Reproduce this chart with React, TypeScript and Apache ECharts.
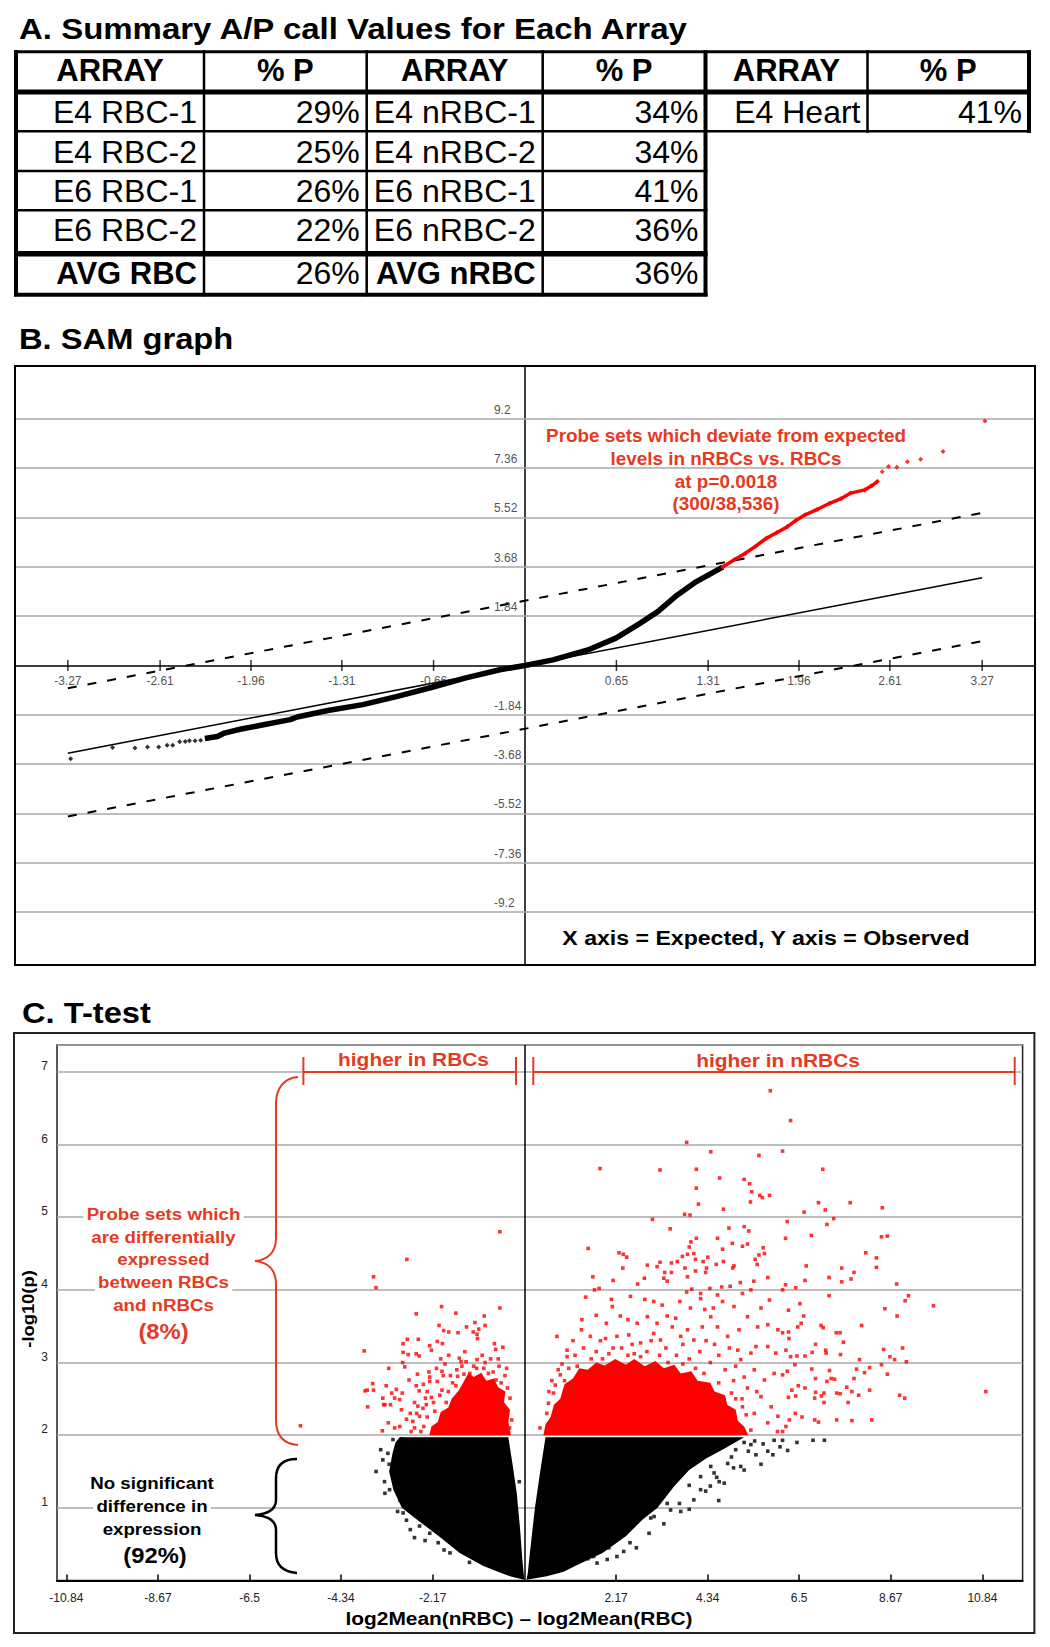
import React, { useEffect, useRef } from 'react';
import * as echarts from 'echarts';

const FONT = '"Liberation Sans", Arial, Helvetica, sans-serif';
const RED_TXT = '#e63a1f';
const RED_PT = '#ff0000';

// ---------------- A. table ----------------
const TITLE_A = 'A. Summary A/P call Values for Each Array';
const TABLE_HEADERS = ['ARRAY', '% P', 'ARRAY', '% P', 'ARRAY', '% P'];
const RBC_ARRAYS = ['E4 RBC-1', 'E4 RBC-2', 'E6 RBC-1', 'E6 RBC-2'];
const RBC_PCT = ['29%', '25%', '26%', '22%'];
const NRBC_ARRAYS = ['E4 nRBC-1', 'E4 nRBC-2', 'E6 nRBC-1', 'E6 nRBC-2'];
const NRBC_PCT = ['34%', '34%', '41%', '36%'];
const AVG_ROW = ['AVG RBC', '26%', 'AVG nRBC', '36%'];
const HEART_ROW = ['E4 Heart', '41%'];

// ---------------- B. SAM graph ----------------
const TITLE_B = 'B. SAM graph';
const SAM_X_TICKS = [-3.27, -2.61, -1.96, -1.31, -0.654, 0.654, 1.31, 1.96, 2.61, 3.27];
const SAM_X_LABELS = ['-3.27', '-2.61', '-1.96', '-1.31', '-0.66', '0.65', '1.31', '1.96', '2.61', '3.27'];
const SAM_Y_TICKS = [-9.2, -7.36, -5.52, -3.68, -1.84, 1.84, 3.68, 5.52, 7.36, 9.2];
const SAM_Y_LABELS = ['-9.2', '-7.36', '-5.52', '-3.68', '-1.84', '1.84', '3.68', '5.52', '7.36', '9.2'];
const SAM_DIAGONAL = [[-3.27, -3.27], [3.27, 3.27]];
const SAM_UPPER = [[-3.27, -0.85], [3.27, 5.69]];
const SAM_LOWER = [[-3.27, -5.63], [3.27, 0.91]];
const SAM_BLACK_CURVE = [
  [-2.29, -2.72], [-2.2, -2.65], [-2.15, -2.52], [-2.03, -2.37], [-1.88, -2.22], [-1.68, -2.02],
  [-1.63, -1.92], [-1.41, -1.68], [-1.16, -1.46], [-0.92, -1.16], [-0.67, -0.82], [-0.43, -0.47],
  [-0.18, -0.16], [0, 0], [0.2, 0.21], [0.45, 0.58], [0.65, 1.02], [0.825, 1.58], [0.95, 2.01],
  [1.075, 2.57], [1.226, 3.13], [1.414, 3.67],
];
const SAM_BLACK_SPARSE = [
  [-3.25, -3.48], [-2.95, -3.06], [-2.79, -3.08], [-2.7, -3.04], [-2.62, -3.04], [-2.56, -2.97],
  [-2.52, -2.97], [-2.47, -2.84], [-2.43, -2.83], [-2.4, -2.81], [-2.36, -2.81], [-2.32, -2.79],
];
const SAM_RED_CURVE = [
  [1.414, 3.67], [1.5, 3.95], [1.577, 4.19], [1.65, 4.45], [1.728, 4.75], [1.8, 4.95], [1.878, 5.18],
  [1.94, 5.42], [2.004, 5.62], [2.09, 5.82], [2.179, 6.05], [2.26, 6.22], [2.329, 6.43], [2.43, 6.55],
  [2.48, 6.7], [2.52, 6.86],
];
const SAM_RED_SPARSE = [
  [2.555, 7.23], [2.6, 7.42], [2.66, 7.39], [2.735, 7.6], [2.83, 7.69], [2.99, 7.98], [3.29, 9.12],
];
const SAM_NOTE = ['Probe sets which deviate from expected', 'levels in nRBCs vs. RBCs', 'at p=0.0018', '(300/38,536)'];
const SAM_AXES_NOTE = 'X axis = Expected, Y axis = Observed';

// ---------------- C. T-test ----------------
const TITLE_C = 'C. T-test';
const T_X_TICKS = [-10.84, -8.67, -6.5, -4.34, -2.17, 2.17, 4.34, 6.5, 8.67, 10.84];
const T_X_NAME = 'log2Mean(nRBC) \u2013 log2Mean(RBC)';
const T_Y_NAME = '-log10(p)';
const BLACK_BLOBS = [
  [[-2.95, 1.97], [-0.38, 1.97], [-0.28, 1.6], [-0.18, 1.2], [-0.1, 0.7], [-0.05, 0.3], [-0.02, 0.12],
   [0, 0.01], [-0.3, 0.05], [-0.58, 0.11], [-0.97, 0.2], [-1.53, 0.38], [-2.0, 0.6], [-2.5, 0.82],
   [-2.9, 1.0], [-3.1, 1.25], [-3.2, 1.5], [-3.12, 1.75], [-3.05, 1.9]],
  [[0.5, 1.97], [5.2, 1.97], [4.75, 1.82], [4.3, 1.68], [3.9, 1.52], [3.55, 1.3], [3.15, 1.0],
   [2.8, 0.84], [2.4, 0.61], [1.85, 0.38], [1.2, 0.2], [0.93, 0.12], [0.53, 0.06], [0.05, 0.01],
   [0.08, 0.1], [0.13, 0.38], [0.25, 1.0], [0.38, 1.52]],
];
const BLACK_SPARSE = [
  [6.83, 1.93], [6.23, 1.79], [5.88, 1.73], [5.76, 1.78], [5.48, 1.73], [5.2, 1.52], [4.73, 1.34],
  [4.61, 1.36], [4.29, 1.23], [4.17, 1.25], [3.7, 0.95], [3.46, 0.97], [3.38, 1.06], [2.99, 0.86],
  [2.65, 0.45], [2.35, 0.4], [2.19, 0.33], [1.96, 0.29], [1.72, 0.24], [2.43, 0.7], [4.81, 1.61],
  [4.49, 1.48], [5.12, 1.57], [5.36, 1.87], [5.91, 1.93], [4.01, 1.11], [3.9, 1.31], [4.41, 1.57],
  [4.17, 1.43], [3.22, 1.16], [3.67, 1.06], [3.07, 0.88], [2.83, 0.93], [2.27, 0.66], [1.64, 0.33],
  [6.11, 1.93], [7.1, 1.93], [5.0, 1.8], [5.2, 1.9], [4.9, 1.7], [-3.51, 1.5], [-3.35, 1.66],
  [-3.31, 1.36], [-3.19, 1.25], [-3.11, 1.94], [-2.87, 0.93], [-2.6, 0.59], [-2.48, 0.75],
  [-2.24, 0.65], [-2.95, 1.11], [-3.03, 1.56], [-3.23, 1.75], [-2.79, 0.83], [-2.04, 0.52],
  [-1.76, 0.38], [-0.12, 1.36], [-3.0, 1.85], [-3.1, 1.4], [-3.3, 1.2], [-3.2, 1.6], [-3.0, 0.95],
  [-2.7, 0.7], [-2.35, 0.55], [-1.9, 0.42], [-1.3, 0.25], [-3.4, 1.8], [-2.9, 1.95], [3.9, 0.98],
  [3.3, 0.78], [2.95, 0.65], [2.5, 0.52], [2.0, 0.45], [1.5, 0.3], [4.4, 1.3], [5.6, 1.6], [4.6, 1.1],
  [5.45, 1.92], [5.65, 1.88], [6.45, 1.9], [6.05, 1.84], [5.3, 1.78], [4.95, 1.55], [4.55, 1.42],
];
const RED_BLOBS = [
  [[-2.25, 2.0], [-0.32, 2.0], [-0.38, 2.18], [-0.34, 2.35], [-0.48, 2.45], [-0.45, 2.6], [-0.62, 2.66],
   [-0.72, 2.78], [-0.9, 2.75], [-1.02, 2.86], [-1.2, 2.8], [-1.32, 2.86], [-1.45, 2.72], [-1.55, 2.62],
   [-1.72, 2.5], [-1.8, 2.38], [-1.98, 2.32], [-2.05, 2.18], [-2.2, 2.12]],
  [[0.45, 2.0], [5.3, 2.0], [5.2, 2.12], [5.05, 2.2], [5.0, 2.35], [4.8, 2.42], [4.75, 2.55], [4.5, 2.6],
   [4.4, 2.72], [4.1, 2.75], [3.95, 2.88], [3.7, 2.85], [3.55, 2.97], [3.3, 2.92], [3.1, 3.02],
   [2.85, 2.95], [2.6, 3.05], [2.4, 2.97], [2.15, 3.05], [1.9, 2.96], [1.7, 3.0], [1.5, 2.9], [1.3, 2.92],
   [1.15, 2.78], [0.95, 2.7], [0.85, 2.5], [0.7, 2.42], [0.62, 2.25], [0.5, 2.15]],
];
const RED_LEFT = [
  [-0.58, 4.8], [-2.78, 4.42], [-3.57, 4.18], [-3.51, 4.03], [-1.96, 3.77], [-0.58, 3.75], [-2.56, 3.67],
  [-1.62, 3.68], [-0.95, 3.64], [-2.02, 3.51], [-1.37, 3.49], [-1.17, 3.55], [-0.93, 3.51], [-1.91, 3.44],
  [-1.79, 3.42], [-1.57, 3.41], [-1.21, 3.42], [-1.08, 3.46], [-1.12, 3.39], [-1.11, 3.33], [-2.77, 3.32],
  [-2.51, 3.32], [-2.87, 3.26], [-2.06, 3.29], [-2.24, 3.23], [-1.94, 3.26], [-0.71, 3.26], [-0.51, 3.21],
  [-0.68, 3.18], [-3.79, 3.16], [-2.87, 3.14], [-2.75, 3.11], [-2.56, 3.12], [-2.49, 3.09], [-2.2, 3.17],
  [-1.79, 3.1], [-1.98, 3.05], [-1.41, 3.15], [-1.54, 3.06], [-1.5, 3.01], [-1.38, 3.01], [-1.12, 3.04],
  [-0.93, 3.0], [-1.88, 2.98], [-2.88, 3.0], [-2.83, 2.94], [-3.21, 2.92], [-2.53, 2.84], [-2.26, 2.87],
  [-2.08, 2.92], [-1.95, 2.88], [-2.24, 2.8], [-1.58, 2.81], [-1.43, 2.84], [-1.29, 2.85], [-1.13, 2.92],
  [-0.96, 2.92], [-0.74, 2.87], [-0.46, 2.82], [-0.67, 2.76], [-2.73, 2.76], [-2.39, 2.7], [-2.24, 2.74],
  [-2.06, 2.74], [-1.92, 2.82], [-3.59, 2.71], [-3.27, 2.68], [-3.77, 2.61], [-3.57, 2.62], [-3.03, 2.63],
  [-3.14, 2.58], [-2.89, 2.58], [-2.56, 2.68], [-2.49, 2.61], [-3.35, 2.51], [-3.07, 2.51], [-2.95, 2.49],
  [-3.33, 2.42], [-3.17, 2.42], [-2.91, 2.35], [-2.6, 2.45], [-2.34, 2.51], [-2.2, 2.52], [-2.4, 2.37],
  [-2.12, 2.33], [-3.22, 2.17], [-3.36, 2.06], [-3.07, 2.1], [-2.95, 2.12], [-2.79, 2.22], [-2.64, 2.19],
  [-2.48, 2.26], [-2.6, 2.1], [-0.34, 2.51], [-0.44, 2.35], [-0.3, 2.21], [-5.3, 2.13], [-3.71, 2.39],
  [-3.72, 2.62], [-3.3, 2.42], [-1.8, 2.6], [-1.7, 2.72], [-2.0, 2.55], [-2.3, 2.25], [-2.45, 2.05],
  [-1.85, 2.45], [-1.6, 2.9], [-1.0, 3.1], [-0.8, 3.05], [-0.6, 2.95], [-0.4, 2.65], [-0.35, 2.1],
  [-2.7, 2.3], [-2.55, 2.3], [-2.3, 2.6], [-2.05, 2.12], [-1.2, 2.95], [-0.85, 2.85],
  [-2.38, 2.12], [-2.32, 2.42], [-2.15, 2.45], [-1.95, 2.62], [-1.75, 2.82], [-1.62, 2.68],
  [-1.48, 2.95], [-0.55, 2.72], [-0.42, 2.92], [-0.62, 3.05], [-2.68, 2.05], [-2.52, 2.4],
];
const RED_RIGHT = [
  [5.82, 6.74], [3.84, 6.03], [4.41, 5.9], [5.55, 5.85], [1.79, 5.67], [3.21, 5.65], [4.07, 5.66],
  [4.62, 5.54], [5.2, 5.52], [5.33, 5.46], [5.38, 5.35], [4.07, 5.4], [5.57, 5.3], [5.8, 5.3], [5.63, 5.27],
  [4.12, 5.18], [5.35, 5.21], [4.71, 5.11], [3.79, 5.04], [3.92, 5.03], [3.03, 4.97], [3.45, 4.84],
  [4.84, 4.85], [5.2, 4.87], [5.31, 4.81], [1.51, 4.57], [2.24, 4.51], [2.34, 4.49], [2.42, 4.45],
  [4.07, 4.71], [3.94, 4.66], [3.9, 4.59], [4.57, 4.71], [4.92, 4.64], [5.16, 4.6], [5.28, 4.63],
  [5.65, 4.58], [5.68, 4.5], [5.55, 4.48], [5.46, 4.42], [5.51, 4.35], [4.69, 4.56], [3.86, 4.49],
  [4.01, 4.5], [3.74, 4.46], [4.05, 4.42], [4.34, 4.45], [4.23, 4.39], [4.54, 4.35], [4.71, 4.39],
  [4.96, 4.33], [4.93, 4.3], [3.62, 4.39], [3.48, 4.37], [3.21, 4.38], [3.14, 4.32], [2.91, 4.34],
  [2.33, 4.3], [3.32, 4.24], [3.48, 4.24], [3.8, 4.3], [3.86, 4.18], [4.05, 4.26], [4.31, 4.3], [4.29, 4.24],
  [3.3, 4.16], [3.38, 4.12], [2.84, 4.16], [2.68, 4.08], [2.1, 4.13], [1.62, 4.18], [5.11, 4.1], [5.43, 4.12],
  [5.76, 4.17], [1.66, 4.0], [1.77, 4.02], [1.45, 3.9], [1.36, 3.59], [0.77, 3.36], [2.06, 3.87], [2.08, 3.77],
  [2.51, 3.91], [2.85, 3.87], [3.06, 3.84], [3.26, 3.79], [3.68, 3.84], [3.84, 3.97], [3.96, 4.01],
  [4.17, 3.95], [4.17, 3.88], [4.39, 4.02], [4.57, 3.93], [4.67, 4.04], [4.87, 4.05], [5.16, 3.95],
  [5.36, 4.0], [5.6, 3.75], [5.8, 3.86], [4.96, 3.77], [4.69, 3.84], [4.47, 3.75], [4.27, 3.73], [3.93, 3.75],
  [3.58, 3.61], [3.38, 3.64], [3.14, 3.54], [2.91, 3.63], [2.67, 3.54], [2.45, 3.59], [2.27, 3.64],
  [1.94, 3.54], [1.7, 3.65], [1.35, 3.45], [1.01, 3.17], [1.01, 3.08], [0.89, 2.98], [0.85, 2.83],
  [0.73, 2.69], [0.69, 2.58], [0.57, 2.44], [0.53, 2.3], [0.37, 2.1], [0.69, 2.21], [1.56, 3.36],
  [1.92, 3.33], [2.19, 3.36], [2.47, 3.38], [2.75, 3.27], [3.06, 3.4], [3.22, 3.31], [3.5, 3.49], [3.7, 3.36],
  [3.86, 3.45], [4.01, 3.31], [4.21, 3.49], [4.41, 3.63], [4.57, 3.49], [4.81, 3.36], [5.08, 3.45],
  [5.28, 3.63], [5.52, 3.49], [5.76, 3.52], [6.0, 3.45], [5.48, 3.22], [5.76, 3.22], [5.95, 3.13],
  [5.36, 3.13], [5.05, 3.17], [5.12, 3.04], [5.44, 2.9], [5.68, 2.76], [5.91, 2.85], [5.28, 2.65],
  [5.6, 2.53], [5.84, 2.39], [5.44, 2.3], [5.76, 2.17], [6.0, 2.26], [5.16, 2.39], [5.36, 2.07], [5.99, 2.05],
  [1.2, 3.1], [1.4, 3.2], [1.7, 3.15], [1.85, 3.05], [2.3, 3.2], [2.6, 3.12], [2.9, 3.15], [3.35, 3.2],
  [3.6, 3.1], [3.9, 3.05], [4.15, 3.15], [4.4, 3.0], [4.6, 3.1], [4.75, 2.9], [4.95, 2.75], [5.0, 2.5],
  [4.85, 3.2], [4.3, 3.3], [3.4, 3.0], [2.1, 3.2], [1.25, 2.95], [0.95, 2.75],
  [1.05, 2.92], [1.58, 3.05], [2.0, 3.12], [2.45, 3.1], [2.75, 3.08], [3.2, 3.1], [3.75, 2.98],
  [4.05, 2.92], [4.25, 2.85], [4.6, 2.72], [4.9, 2.58], [5.15, 2.5], [5.25, 2.28], [0.58, 2.6],
  [0.8, 2.9], [0.65, 2.75], [1.15, 3.3], [1.8, 3.3], [2.55, 3.25], [3.0, 3.3], [3.75, 3.25],
  [4.5, 3.25], [5.2, 2.8], [5.5, 2.6], [5.0, 2.95],
  [6.3, 6.33], [6.11, 5.91], [7.06, 5.66], [6.96, 5.2], [7.12, 5.1], [7.71, 5.2], [8.47, 5.13], [6.62, 5.07],
  [7.32, 4.98], [7.16, 4.9], [6.22, 4.94], [6.18, 4.71], [6.79, 4.75], [8.45, 4.73], [8.59, 4.74],
  [8.08, 4.51], [8.33, 4.44], [8.33, 4.31], [6.67, 4.33], [7.51, 4.3], [7.8, 4.24], [6.64, 4.13],
  [7.21, 4.17], [7.51, 4.11], [7.73, 4.15], [8.81, 4.08], [6.18, 4.07], [6.42, 4.03], [6.11, 4.0],
  [7.21, 3.92], [9.09, 3.92], [9.01, 3.85], [9.68, 3.78], [8.53, 3.74], [6.25, 3.72], [6.52, 3.81],
  [6.61, 3.64], [8.82, 3.64], [7.98, 3.51], [7.02, 3.51], [7.07, 3.48], [6.47, 3.49], [6.55, 3.54],
  [6.25, 3.42], [6.26, 3.33], [6.11, 3.41], [7.38, 3.41], [7.47, 3.41], [7.55, 3.28], [6.89, 3.25],
  [7.13, 3.17], [7.48, 3.11], [7.14, 3.13], [6.81, 3.14], [6.64, 3.09], [6.45, 3.09], [6.3, 3.08],
  [6.19, 3.17], [8.5, 3.18], [8.65, 3.08], [8.76, 3.04], [8.95, 3.2], [9.04, 3.01], [7.93, 3.04],
  [8.45, 2.97], [6.4, 2.97], [6.22, 2.88], [6.11, 2.83], [6.8, 2.91], [6.89, 2.78], [7.22, 2.89],
  [7.26, 2.78], [7.16, 2.74], [7.86, 2.91], [8.17, 2.93], [8.05, 2.86], [7.8, 2.78], [8.59, 2.84],
  [7.34, 2.77], [7.63, 2.66], [8.17, 2.62], [7.91, 2.55], [7.75, 2.6], [7.47, 2.57], [7.39, 2.58],
  [7.09, 2.58], [6.89, 2.59], [7.03, 2.54], [7.09, 2.45], [7.66, 2.45], [6.87, 2.51], [6.64, 2.65],
  [6.48, 2.68], [6.42, 2.54], [6.33, 2.62], [6.25, 2.52], [8.88, 2.55], [9.0, 2.51], [10.92, 2.6],
  [6.41, 2.3], [6.57, 2.25], [6.87, 2.21], [6.96, 2.18], [7.39, 2.21], [7.75, 2.2], [8.22, 2.21],
  [6.27, 2.21], [6.19, 2.12], [6.11, 2.05],
];
const RED_NOTE = ['Probe sets which', 'are differentially', 'expressed', 'between RBCs', 'and nRBCs'];
const RED_NOTE_PCT = '(8%)';
const BLACK_NOTE = ['No significant', 'difference in', 'expression'];
const BLACK_NOTE_PCT = '(92%)';
const BRACKET_LABELS = ['higher in RBCs', 'higher in nRBCs'];

// ---- brace shapes (annotation drawings, pixel coordinates) ----
echarts.graphic.registerShape(
  'redBrace',
  echarts.graphic.extendPath(
    'M298,1077 C284,1078 276,1088 276,1104 L276,1238 C276,1252 268,1260 255,1261 C268,1262 276,1270 276,1284 L276,1420 C276,1436 284,1444 298,1445',
    {}
  )
);
echarts.graphic.registerShape(
  'blackBrace',
  echarts.graphic.extendPath(
    'M297,1459 C284,1459 276,1465 276,1478 L276,1500 C276,1510 268,1514 255,1515 C268,1516 276,1520 276,1530 L276,1553 C276,1566 284,1572 297,1573',
    {}
  )
);

type TxtOpt = { size?: number; bold?: boolean; color?: string; align?: string; sx?: number; rot?: number; bg?: boolean };
const txt = (text: string, x: number, y: number, o: TxtOpt = {}) => ({
  type: 'text',
  x,
  y,
  z: 100,
  scaleX: o.sx ?? 1,
  rotation: o.rot ?? 0,
  style: {
    text,
    fill: o.color ?? '#000',
    fontSize: o.size ?? 16,
    fontWeight: o.bold ? 'bold' : 'normal',
    fontFamily: FONT,
    align: o.align ?? 'center',
    verticalAlign: 'middle',
    backgroundColor: o.bg ? '#fff' : undefined,
    padding: o.bg ? [0, 3] : 0,
  },
});
const bar = (x: number, y: number, w: number, h: number, fill = '#000') => ({
  type: 'rect',
  z: 100,
  shape: { x, y, width: w, height: h },
  style: { fill },
});
const seg = (x1: number, y1: number, x2: number, y2: number, stroke: string, lw: number) => ({
  type: 'line',
  z: 100,
  shape: { x1, y1, x2, y2 },
  style: { stroke, lineWidth: lw },
});

function buildTable() {
  const cols = [16, 204, 366.7, 542.7, 705.5, 867.5, 1029];
  const rows = [51.7, 92, 131.3, 171, 210.3, 253.7, 294.7];
  const textY = [70, 112, 151.5, 191, 230, 273];
  const els: any[] = [];
  const hLines: [number, number, number, number][] = [
    [rows[0], cols[0], cols[6], 3],
    [rows[1], cols[0], cols[6], 5],
    [rows[2], cols[0], cols[6], 2.5],
    [rows[3], cols[0], cols[4], 2.5],
    [rows[4], cols[0], cols[4], 2.5],
    [rows[5], cols[0], cols[4], 5.5],
    [rows[6], cols[0], cols[4], 4],
  ];
  hLines.forEach(([y, a, b, w]) => els.push(bar(a - 2, y - w / 2, b - a + 4, w)));
  const vLines: [number, number, number, number][] = [
    [cols[0], rows[0], rows[6], 4],
    [cols[1], rows[0], rows[6], 2.5],
    [cols[2], rows[0], rows[6], 2.5],
    [cols[3], rows[0], rows[6], 2.5],
    [cols[4], rows[0], rows[6], 4],
    [cols[5], rows[0], rows[2], 2.5],
    [cols[6], rows[0], rows[2], 4],
  ];
  vLines.forEach(([x, a, b, w]) => els.push(bar(x - w / 2, a - 1.5, w, b - a + 3)));
  TABLE_HEADERS.forEach((h, i) => els.push(txt(h, (cols[i] + cols[i + 1]) / 2, textY[0], { size: 31, bold: true })));
  const R = (i: number) => cols[i] - 7;
  for (let r = 0; r < RBC_ARRAYS.length; r++) {
    const y = textY[r + 1];
    els.push(txt(RBC_ARRAYS[r], R(1), y, { size: 32, align: 'right' }));
    els.push(txt(RBC_PCT[r], R(2), y, { size: 32, align: 'right' }));
    els.push(txt(NRBC_ARRAYS[r], R(3), y, { size: 32, align: 'right' }));
    els.push(txt(NRBC_PCT[r], R(4), y, { size: 32, align: 'right' }));
  }
  els.push(txt(HEART_ROW[0], R(5), textY[1], { size: 32, align: 'right' }));
  els.push(txt(HEART_ROW[1], R(6), textY[1], { size: 32, align: 'right' }));
  els.push(txt(AVG_ROW[0], R(1), textY[5], { size: 31, bold: true, align: 'right' }));
  els.push(txt(AVG_ROW[1], R(2), textY[5], { size: 32, align: 'right' }));
  els.push(txt(AVG_ROW[2], R(3), textY[5], { size: 31, bold: true, align: 'right' }));
  els.push(txt(AVG_ROW[3], R(4), textY[5], { size: 32, align: 'right' }));
  return els;
}

const polygonSeries = (polys: number[][][], color: string) => ({
  type: 'custom',
  xAxisIndex: 1,
  yAxisIndex: 1,
  silent: true,
  clip: true,
  z: 2,
  data: [[0, 0]],
  renderItem: (_params: any, api: any) => ({
    type: 'group',
    children: polys.map((poly) => ({
      type: 'polygon',
      shape: { points: poly.map((p) => api.coord(p)) },
      style: { fill: color },
    })),
  }),
});

function buildOption() {
  const graphics: any[] = [
    txt(TITLE_A, 19, 28.5, { size: 30, bold: true, align: 'left', sx: 1.1 }),
    ...buildTable(),
    txt(TITLE_B, 19, 339, { size: 30, bold: true, align: 'left', sx: 1.09 }),
    {
      type: 'rect', z: 100,
      shape: { x: 15, y: 366, width: 1020, height: 599 },
      style: { fill: 'none', stroke: '#000', lineWidth: 2 },
    },
    ...SAM_NOTE.map((s, i) => txt(s, 726, 436 + i * 22.7, { size: 18, bold: true, color: RED_TXT, sx: 1.05 })),
    txt(SAM_AXES_NOTE, 766, 938, { size: 21, bold: true, sx: 1.1 }),
    txt(TITLE_C, 22, 1012.5, { size: 30, bold: true, align: 'left', sx: 1.09 }),
    {
      type: 'rect', z: 100,
      shape: { x: 14, y: 1033, width: 1020.4, height: 600 },
      style: { fill: 'none', stroke: '#222', lineWidth: 2 },
    },
    seg(303.4, 1072, 516, 1072, RED_TXT, 2),
    seg(303.4, 1057, 303.4, 1085, RED_TXT, 2),
    seg(516, 1057, 516, 1085, RED_TXT, 2),
    seg(533.3, 1072, 1014.7, 1072, RED_TXT, 2),
    seg(533.3, 1057, 533.3, 1085, RED_TXT, 2),
    seg(1014.7, 1057, 1014.7, 1085, RED_TXT, 2),
    txt(BRACKET_LABELS[0], 413.5, 1059, { size: 19, bold: true, color: RED_TXT, sx: 1.1 }),
    txt(BRACKET_LABELS[1], 778, 1060, { size: 19, bold: true, color: RED_TXT, sx: 1.1 }),
    { type: 'redBrace', z: 100, style: { fill: 'none', stroke: RED_TXT, lineWidth: 2 } },
    { type: 'blackBrace', z: 100, style: { fill: 'none', stroke: '#000', lineWidth: 2.5 } },
    ...RED_NOTE.map((s, i) => txt(s, 163.5, 1214 + i * 22.8, { size: 17, bold: true, color: RED_TXT, sx: 1.1, bg: true })),
    txt(RED_NOTE_PCT, 163.5, 1331, { size: 22, bold: true, color: RED_TXT, sx: 1.08 }),
    ...BLACK_NOTE.map((s, i) => txt(s, 152, 1483.3 + i * 23, { size: 17, bold: true, sx: 1.1, bg: true })),
    txt(BLACK_NOTE_PCT, 155, 1555, { size: 22, bold: true, sx: 1.08 }),
    txt(T_Y_NAME, 28, 1309, { size: 17, bold: true, sx: 1.08, rot: Math.PI / 2 }),
    txt(T_X_NAME, 519, 1618, { size: 19, bold: true, sx: 1.1 }),
  ];

  const lbl = { fontFamily: FONT, fontSize: 12, color: '#222' };

  return {
    animation: false,
    backgroundColor: '#fff',
    graphic: graphics,
    grid: [
      { left: 15, top: 366, width: 1020, height: 599, show: false },
      { left: 57, top: 1045, width: 965.6, height: 535.5, show: true, borderColor: '#222', borderWidth: 1.5, backgroundColor: 'transparent' },
    ],
    xAxis: [
      {
        gridIndex: 0, type: 'value', min: -3.648, max: 3.648,
        axisLine: { onZero: true, lineStyle: { color: '#000', width: 1.5 } },
        axisTick: { show: false },
        splitLine: { show: false },
        axisLabel: { show: false },
      },
      {
        gridIndex: 1, type: 'value', min: -11.06, max: 11.79,
        axisLine: { onZero: false, lineStyle: { color: '#000', width: 2 } },
        axisTick: { show: true, inside: true, length: 6, customValues: T_X_TICKS, lineStyle: { color: '#000', width: 1.5 } },
        splitLine: { show: false },
        axisLabel: { ...lbl, customValues: T_X_TICKS, formatter: (v: number) => String(v), margin: 11 },
      },
    ],
    yAxis: [
      {
        gridIndex: 0, type: 'value', min: -11.17, max: 11.17,
        axisLine: { onZero: true, lineStyle: { color: '#000', width: 1.5 } },
        axisTick: { show: false },
        splitLine: { show: false },
        axisLabel: { show: false },
      },
      {
        gridIndex: 1, type: 'value', min: 0, max: 7.37, interval: 1,
        axisLine: { show: false, onZero: false },
        axisTick: { show: false },
        splitLine: { show: true, lineStyle: { color: '#a8a8a8', width: 1.5 } },
        axisLabel: {
          ...lbl,
          formatter: (v: number) => (Math.abs(v - Math.round(v)) < 1e-9 && v > 0 ? String(Math.round(v)) : ''),
          margin: 9, verticalAlign: 'bottom',
        },
      },
    ],
    series: [
      {
        type: 'line', xAxisIndex: 0, yAxisIndex: 0, data: SAM_DIAGONAL, symbol: 'none', silent: true, z: 3,
        lineStyle: { color: '#000', width: 1.5 },
        markLine: {
          z: 1, silent: true, symbol: ['none', 'none'], label: { show: false },
          lineStyle: { color: '#a8a8a8', width: 1.5, type: 'solid' },
          data: SAM_Y_TICKS.map((v) => ({ yAxis: v })),
        },
      },
      {
        type: 'line', xAxisIndex: 0, yAxisIndex: 0, data: SAM_UPPER, symbol: 'none', silent: true, z: 3,
        lineStyle: { color: '#000', width: 2, type: [9, 11] },
      },
      {
        type: 'line', xAxisIndex: 0, yAxisIndex: 0, data: SAM_LOWER, symbol: 'none', silent: true, z: 3,
        lineStyle: { color: '#000', width: 2, type: [9, 11] },
      },
      {
        type: 'line', xAxisIndex: 0, yAxisIndex: 0, data: SAM_BLACK_CURVE, symbol: 'none', silent: true, z: 4,
        lineStyle: { color: '#000', width: 5.5 },
      },
      {
        type: 'scatter', xAxisIndex: 0, yAxisIndex: 0, data: SAM_BLACK_SPARSE, symbol: 'diamond', symbolSize: 5, silent: true, z: 4,
        itemStyle: { color: '#000' },
      },
      {
        type: 'line', xAxisIndex: 0, yAxisIndex: 0, data: SAM_RED_CURVE, symbol: 'diamond', symbolSize: 5, silent: true, z: 4,
        itemStyle: { color: RED_PT },
        lineStyle: { color: RED_PT, width: 3.5 },
      },
      {
        type: 'scatter', xAxisIndex: 0, yAxisIndex: 0, data: SAM_RED_SPARSE, symbol: 'diamond', symbolSize: 5, silent: true, z: 4,
        itemStyle: { color: RED_PT },
      },
      {
        type: 'scatter', xAxisIndex: 0, yAxisIndex: 0,
        data: SAM_X_TICKS.map((v, i) => ({ name: SAM_X_LABELS[i], value: [v, 0] })),
        symbol: 'rect', symbolSize: [1.5, 11], silent: true, z: 3,
        itemStyle: { color: '#000' },
        label: { show: true, formatter: '{b}', position: 'bottom', distance: 4, ...lbl },
      },
      {
        type: 'scatter', xAxisIndex: 0, yAxisIndex: 0,
        data: SAM_Y_TICKS.map((v, i) => ({ name: SAM_Y_LABELS[i], value: [0, v] })),
        symbol: 'circle', symbolSize: 0.1, silent: true, z: 3,
        itemStyle: { color: 'rgba(0,0,0,0)' },
        label: { show: true, formatter: '{b}', position: [-31, -3], align: 'left', verticalAlign: 'bottom', ...lbl },
      },
      polygonSeries(BLACK_BLOBS, '#000'),
      {
        type: 'scatter', xAxisIndex: 1, yAxisIndex: 1, data: BLACK_SPARSE, symbol: 'rect', symbolSize: 3.6, silent: true, z: 2,
        itemStyle: { color: '#000' },
        markLine: {
          z: 1, silent: true, symbol: ['none', 'none'], label: { show: false },
          lineStyle: { color: '#000', width: 1.5, type: 'solid' },
          data: [{ xAxis: 0 }],
        },
      },
      polygonSeries(RED_BLOBS, RED_PT),
      {
        type: 'scatter', xAxisIndex: 1, yAxisIndex: 1, data: [...RED_LEFT, ...RED_RIGHT], symbol: 'rect', symbolSize: 3.6, silent: true, z: 2,
        itemStyle: { color: RED_PT },
      },
    ],
  };
}

export default function App() {
  const ref = useRef<HTMLDivElement>(null);
  useEffect(() => {
    if (!ref.current) return;
    const chart = echarts.init(ref.current, undefined, { renderer: 'svg' });
    chart.setOption(buildOption() as any);
    return () => chart.dispose();
  }, []);
  return (
    <div
      ref={ref}
      style={{ position: 'absolute', left: 0, top: 0, width: 1050, height: 1647, background: '#fff' }}
    />
  );
}
